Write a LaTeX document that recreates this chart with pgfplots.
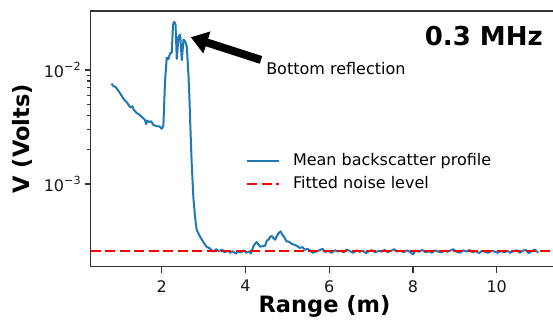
\documentclass[border=0pt]{standalone}
\usepackage{fontspec}
\setmainfont{DejaVu Sans}
\usepackage{pgfplots}
\pgfplotsset{compat=1.18}
\usetikzlibrary{arrows.meta}
\definecolor{mplblue}{HTML}{1F77B4}
\begin{document}
\begin{tikzpicture}
\begin{axis}[
  name=ax,
  scale only axis,
  width=467.6pt, height=255.7pt,
  ymode=log,
  xmin=0.3045, xmax=11.47,
  ymin=1.884e-4, ymax=0.0329,
  xtick={2,4,6,8,10},
  ytick={0.001,0.01},
  yticklabels={10\textsuperscript{−3},10\textsuperscript{−2}},
  /pgf/number format/assume math mode=true,
  tick label style={font=\fontsize{16}{19}\selectfont, text=black!90},
  xticklabel style={yshift=-4pt},
  xtick pos=left, ytick pos=left,
  tick align=outside,
  major tick length=6pt, minor tick length=3.5pt,
  every tick/.style={black!80, line width=1.1pt},
  axis line style={black!80, line width=1.3pt},
  xlabel={\bfseries Range (m)},
  ylabel={\bfseries V (Volts)},
  label style={font=\fontsize{22.5}{26}\selectfont},
  xlabel style={at={(axis description cs:0.5,-0.1545)}, anchor=center},
  ylabel style={at={(axis description cs:-0.147,0.5)}, anchor=center, rotate=0},
  legend style={draw=none, fill=none, at={(0.3315,0.4444)}, anchor=north west,
    font=\fontsize{16}{19}\selectfont, row sep=8.3pt, inner sep=0pt,
    nodes={inner sep=0pt, text height=12pt, text depth=3pt}},
  legend cell align=left,
  legend image code/.code={\draw[#1] (0pt,0pt) -- (32pt,0pt); \path[draw=none,fill=none] (0pt,-3pt) rectangle (46pt,3pt);},
  clip=true,
]
\addplot[mplblue, line width=2pt, line join=round] coordinates {
(0.80,7.6e-3) (0.85,7.2e-3) (0.90,7.1e-3) (0.95,6.7e-3) (1.00,6.3e-3)
(1.05,5.9e-3) (1.10,5.5e-3) (1.15,5.3e-3) (1.20,5.0e-3) (1.25,4.7e-3)
(1.30,4.8e-3) (1.33,4.5e-3) (1.40,4.2e-3) (1.45,4.1e-3) (1.50,3.95e-3)
(1.55,3.8e-3) (1.60,3.65e-3) (1.63,3.35e-3) (1.65,3.6e-3) (1.70,3.5e-3)
(1.75,3.55e-3) (1.80,3.3e-3) (1.85,3.25e-3) (1.90,3.2e-3) (1.95,3.2e-3)
(2.00,3.05e-3) (2.04,3.25e-3) (2.08,8.0e-3) (2.12,1.28e-2) (2.16,1.25e-2)
(2.20,1.40e-2) (2.24,1.42e-2) (2.27,2.5e-2) (2.30,2.65e-2) (2.33,2.5e-2)
(2.36,1.25e-2) (2.40,1.95e-2) (2.44,2.05e-2) (2.48,1.22e-2) (2.52,1.85e-2)
(2.56,1.78e-2) (2.60,1.6e-2) (2.64,8.8e-3) (2.66,6.0e-3) (2.68,3.5e-3)
(2.716,1.52e-3) (2.755,7.74e-4) (2.795,5.16e-4) (2.836,3.94e-4) (2.915,3.45e-4)
(2.99,3.12e-4) (3.07,2.82e-4) (3.15,2.73e-4)
(3.23,2.55e-4) (3.30,2.68e-4) (3.37,2.58e-4) (3.44,2.66e-4) (3.50,2.52e-4)
(3.57,2.60e-4) (3.64,2.50e-4) (3.70,2.58e-4) (3.76,2.45e-4) (3.83,2.56e-4)
(3.90,2.52e-4) (3.96,2.62e-4) (4.02,2.50e-4) (4.08,2.57e-4) (4.13,2.46e-4)
(4.19,2.85e-4) (4.23,3.0e-4) (4.27,3.1e-4) (4.31,2.95e-4) (4.35,2.82e-4)
(4.41,2.85e-4) (4.47,2.88e-4) (4.51,3.2e-4) (4.55,3.25e-4) (4.59,3.45e-4)
(4.63,3.5e-4) (4.67,3.35e-4) (4.71,3.25e-4) (4.75,3.5e-4) (4.79,3.7e-4)
(4.84,3.85e-4) (4.88,3.6e-4) (4.92,3.45e-4) (4.98,3.15e-4) (5.04,3.12e-4)
(5.10,3.0e-4) (5.18,2.92e-4) (5.24,2.85e-4) (5.30,2.75e-4) (5.36,2.80e-4)
(5.42,2.65e-4) (5.48,2.70e-4) (5.54,2.62e-4) (5.60,2.50e-4)
(5.68,2.55e-4) (5.76,2.62e-4) (5.84,2.70e-4) (5.90,2.54e-4) (5.98,2.58e-4)
(6.06,2.50e-4) (6.14,2.63e-4) (6.20,2.56e-4) (6.28,2.60e-4) (6.35,2.52e-4)
(6.42,2.66e-4) (6.50,2.57e-4) (6.58,2.50e-4) (6.65,2.62e-4) (6.72,2.55e-4)
(6.80,2.60e-4) (6.88,2.48e-4) (6.95,2.58e-4) (7.02,2.63e-4) (7.10,2.52e-4)
(7.18,2.60e-4) (7.25,2.55e-4) (7.32,2.64e-4) (7.40,2.53e-4) (7.48,2.60e-4)
(7.55,2.68e-4) (7.62,2.56e-4) (7.70,2.60e-4) (7.78,2.52e-4) (7.85,2.62e-4)
(7.92,2.55e-4) (8.00,2.42e-4) (8.06,2.60e-4) (8.14,2.55e-4) (8.22,2.64e-4)
(8.30,2.52e-4) (8.38,2.58e-4) (8.45,2.50e-4) (8.52,2.62e-4) (8.60,2.56e-4)
(8.68,2.52e-4) (8.75,2.60e-4) (8.82,2.55e-4) (8.90,2.62e-4) (8.96,2.68e-4)
(9.04,2.55e-4) (9.12,2.50e-4) (9.20,2.62e-4) (9.28,2.56e-4) (9.35,2.64e-4)
(9.42,2.52e-4) (9.50,2.58e-4) (9.58,2.48e-4) (9.65,2.60e-4) (9.72,2.54e-4)
(9.80,2.50e-4) (9.88,2.60e-4) (9.95,2.55e-4) (10.02,2.50e-4) (10.10,2.58e-4)
(10.18,2.52e-4) (10.25,2.60e-4) (10.32,2.50e-4) (10.40,2.58e-4) (10.48,2.62e-4)
(10.55,2.50e-4) (10.62,2.60e-4) (10.70,2.64e-4) (10.76,2.48e-4) (10.82,2.55e-4)
(10.90,2.66e-4) (10.95,2.58e-4) (10.99,2.50e-4)
};
\addlegendentry{Mean backscatter profile}
\addplot[red, line width=2.2pt, dash pattern=on 10pt off 4.5pt] coordinates {(0.3045,2.584e-4) (11.47,2.584e-4)};
\addlegendentry{Fitted noise level}
\node[font=\fontsize{26}{30}\selectfont\bfseries, anchor=base east, inner sep=0pt] at (rel axis cs:0.967,0.867) {0.3 MHz};
\node[font=\fontsize{16}{19}\selectfont, anchor=base west, inner sep=0pt] at (rel axis cs:0.375,0.7536) {Bottom reflection};
\draw[black, line width=8pt, -{Triangle[length=17pt,width=22pt]}] (axis cs:4.371,0.01225) -- (axis cs:2.693,0.01937);
\end{axis}
\pgfresetboundingbox
\path[use as bounding box] ([shift={(-90.7pt,-55.3pt)}]ax.south west) rectangle ([shift={(462.3pt,266.7pt)}]ax.south west);
\end{tikzpicture}
\end{document}
